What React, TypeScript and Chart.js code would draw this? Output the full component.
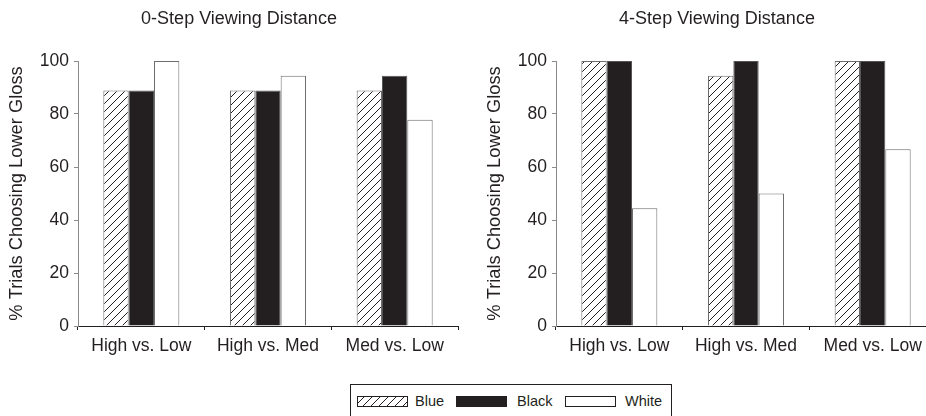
import React, { useEffect, useRef } from "react";
import { Chart, registerables } from "chart.js";

Chart.register(...registerables);

const categories = ["High vs. Low", "High vs. Med", "Med vs. Low"];
const seriesNames = ["Blue", "Black", "White"];
const blue0 = [88.9, 88.9, 88.9];
const black0 = [88.9, 88.9, 94.4];
const white0 = [100, 94.4, 77.8];
const blue4 = [100, 94.4, 100];
const black4 = [100, 100, 100];
const white4 = [44.4, 50, 66.7];
const yTicks = [0, 20, 40, 60, 80, 100];
const panelTitles = ["0-Step Viewing Distance", "4-Step Viewing Distance"];
const yTitle = "% Trials Choosing Lower Gloss";

const FONT = "'Liberation Sans', Arial, Helvetica, sans-serif";
const INK = "#231f20";

function makeHatch(ctxSrc?: CanvasRenderingContext2D): CanvasPattern | string {
  const c = document.createElement("canvas");
  c.width = 8;
  c.height = 8;
  const ctx = c.getContext("2d");
  if (!ctx) return "#fff";
  ctx.fillStyle = "#fff";
  ctx.fillRect(0, 0, 8, 8);
  ctx.strokeStyle = INK;
  ctx.lineWidth = 1;
  ctx.beginPath();
  ctx.moveTo(0, 8);
  ctx.lineTo(8, 0);
  ctx.moveTo(-2, 2);
  ctx.lineTo(2, -2);
  ctx.moveTo(6, 10);
  ctx.lineTo(10, 6);
  ctx.stroke();
  const target = ctxSrc || ctx;
  return target.createPattern(c, "repeat") || "#fff";
}

function BarPanel({ title, blue, black, white }: { title: string; blue: number[]; black: number[]; white: number[] }) {
  const ref = useRef<HTMLCanvasElement | null>(null);
  useEffect(() => {
    if (!ref.current) return;
    const ctx = ref.current.getContext("2d")!;
    const hatch = makeHatch(ctx);
    const tickFont = { family: FONT, size: 17.5, weight: "normal" as const };
    const titleFont = { family: FONT, size: 18, weight: "normal" as const };
    const yTitleFont = { family: FONT, size: 18.3, weight: "normal" as const };
    const chart = new Chart(ref.current, {
      type: "bar",
      data: {
        labels: categories,
        datasets: [
          { label: seriesNames[0], data: blue, backgroundColor: hatch as any, borderColor: "#6d6d6d", borderWidth: 1 },
          { label: seriesNames[1], data: black, backgroundColor: INK, borderColor: "#555", borderWidth: 1 },
          { label: seriesNames[2], data: white, backgroundColor: "#ffffff", borderColor: "#6d6d6d", borderWidth: 1 },
        ],
      },
      options: {
        animation: false,
        responsive: false,
        maintainAspectRatio: false,
        layout: { padding: 0 },
        datasets: { bar: { categoryPercentage: 0.6, barPercentage: 1 } },
        plugins: {
          legend: { display: false },
          tooltip: { enabled: false },
          title: {
            display: true,
            text: title,
            color: INK,
            font: titleFont,
            padding: { top: 8, bottom: 31.4 },
          },
        },
        scales: {
          x: {
            grid: { display: true, drawOnChartArea: false, drawTicks: true, tickLength: 4, color: INK },
            border: { display: true, color: INK, width: 1 },
            ticks: { color: INK, font: tickFont, padding: 6, maxRotation: 0 },
            afterFit: (s: any) => {
              s.height = 44;
            },
          },
          y: {
            min: 0,
            max: 100,
            afterBuildTicks: (s: any) => {
              s.ticks = yTicks.map((v) => ({ value: v }));
            },
            grid: { display: true, drawOnChartArea: false, drawTicks: true, tickLength: 4, color: "#8a8a8a" },
            border: { display: true, color: "#8a8a8a", width: 1 },
            ticks: { color: INK, font: tickFont, padding: 5 },
            title: { display: true, text: yTitle, color: INK, font: yTitleFont, padding: { top: 6, bottom: 0 } },
            afterFit: (s: any) => {
              s.width = 78;
            },
          },
          yr: {
            type: "linear",
            position: "right",
            display: true,
            ticks: { display: false },
            grid: { display: false },
            border: { display: false },
            afterFit: (s: any) => {
              s.width = 20;
            },
          },
        },
      },
    });
    return () => chart.destroy();
  }, [title, blue, black, white]);
  return <canvas ref={ref} width={478} height={370} style={{ width: 478, height: 370, display: "block" }} />;
}

function HatchSwatch() {
  const ref = useRef<HTMLCanvasElement | null>(null);
  useEffect(() => {
    const c = ref.current;
    if (!c) return;
    const ctx = c.getContext("2d")!;
    ctx.fillStyle = makeHatch(ctx) as any;
    ctx.fillRect(0, 0, c.width, c.height);
    ctx.strokeStyle = INK;
    ctx.lineWidth = 1;
    ctx.strokeRect(0.5, 0.5, c.width - 1, c.height - 1);
  }, []);
  return <canvas ref={ref} width={51} height={11} style={{ position: "absolute", left: 0, top: 0, width: 51, height: 11 }} />;
}

function Legend() {
  const swatchStyle = (bg: string): React.CSSProperties => ({
    position: "absolute",
    left: 0,
    top: 0,
    width: 51,
    height: 11,
    boxSizing: "border-box",
    border: `1px solid ${INK}`,
    background: bg,
  });
  const items = [
    { name: seriesNames[0], x: 357, tx: 415, swatch: <HatchSwatch /> },
    { name: seriesNames[1], x: 456, tx: 517, swatch: <div style={swatchStyle(INK)} /> },
    { name: seriesNames[2], x: 565, tx: 625, swatch: <div style={swatchStyle("#fff")} /> },
  ];
  return (
    <>
      <div
        style={{
          position: "absolute",
          left: 350,
          top: 384,
          width: 322,
          height: 34,
          boxSizing: "border-box",
          border: `1px solid ${INK}`,
          background: "#fff",
        }}
      />
      {items.map((it) => (
        <React.Fragment key={it.name}>
          <div style={{ position: "absolute", left: it.x, top: 396, width: 51, height: 11 }}>{it.swatch}</div>
          <div
            style={{
              position: "absolute",
              left: it.tx,
              top: 392,
              fontFamily: FONT,
              fontSize: 14.5,
              lineHeight: "18px",
              color: INK,
              whiteSpace: "nowrap",
            }}
          >
            {it.name}
          </div>
        </React.Fragment>
      ))}
    </>
  );
}

export default function App() {
  useEffect(() => {
    document.body.style.margin = "0";
  }, []);
  return (
    <div
      style={{
        position: "fixed",
        left: 0,
        top: 0,
        width: 926,
        height: 416,
        overflow: "hidden",
        background: "#fff",
      }}
    >
      <div style={{ position: "absolute", left: 0, top: 0 }}>
        <BarPanel title={panelTitles[0]} blue={blue0} black={black0} white={white0} />
      </div>
      <div style={{ position: "absolute", left: 478, top: 0 }}>
        <BarPanel title={panelTitles[1]} blue={blue4} black={black4} white={white4} />
      </div>
      <Legend />
    </div>
  );
}
